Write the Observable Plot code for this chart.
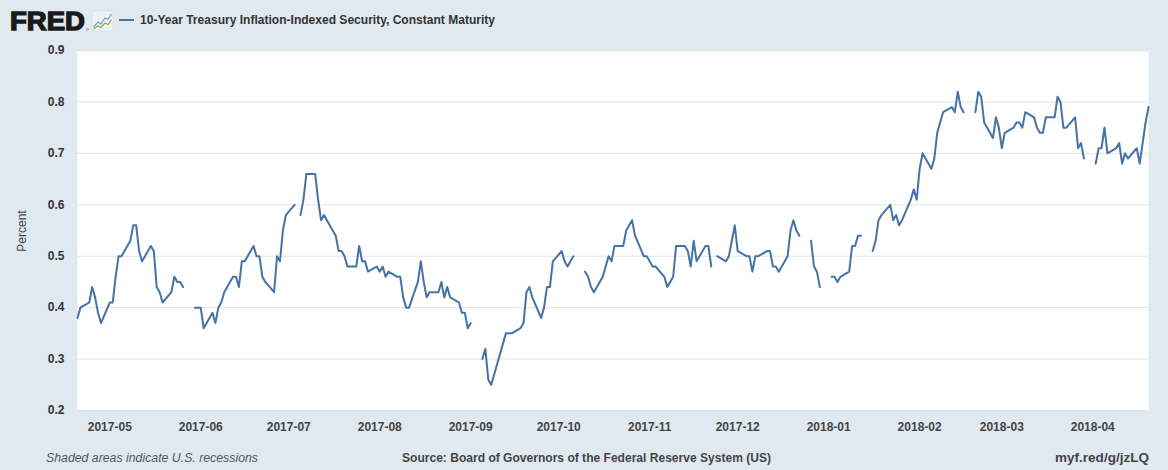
<!DOCTYPE html>
<html>
<head>
<meta charset="utf-8">
<script src="https://cdn.jsdelivr.net/npm/d3@7"></script>
<script src="https://cdn.jsdelivr.net/npm/@observablehq/plot@0.6"></script>
<style>
  html, body { margin: 0; padding: 0; }
  body { width: 1168px; height: 470px; background: #e1e9f0; overflow: hidden; position: relative;
         font-family: "Liberation Sans", Arial, sans-serif; }
  #header { position: absolute; left: 0; top: 0; width: 1168px; height: 40px; }
  #chart { position: absolute; left: 0; top: 40px; width: 1168px; height: 400px; }
  #ylabel { position: absolute; left: 22px; top: 231px; transform: translate(-50%, -50%) rotate(-90deg);
            font-size: 12px; color: #444; white-space: nowrap; }
  #footer { position: absolute; left: 0; top: 440px; width: 1168px; height: 30px; }
</style>
</head>
<body>
<svg id="header" width="1168" height="40" xmlns="http://www.w3.org/2000/svg">
  <text x="10" y="30" font-family="Liberation Sans, Arial, sans-serif" font-weight="bold" font-size="25" fill="#1a1a1a" stroke="#1a1a1a" stroke-width="1.3" textLength="75" lengthAdjust="spacingAndGlyphs">FRED</text>
  <text x="86" y="31" font-family="Liberation Sans, Arial, sans-serif" font-size="4" fill="#1a1a1a">®</text>
  <rect x="92" y="11" width="21" height="20" rx="2" fill="#eef2f2" stroke="#d5d9dc" stroke-width="0.6"/>
  <polyline points="93.5,27 98,22 101,24 105,18 108,19 111.5,14" fill="none" stroke="#6f9fd0" stroke-width="1.2"/>
  <polyline points="93.5,29 98,26 101,27.5 105,23 108,24.5 111.5,20" fill="none" stroke="#7cb342" stroke-width="1.2"/>
  <line x1="119" y1="20" x2="134" y2="20" stroke="#4572a7" stroke-width="2"/>
  <text x="140" y="24" font-family="Liberation Sans, Arial, sans-serif" font-weight="bold" font-size="12" fill="#333" textLength="355" lengthAdjust="spacingAndGlyphs">10-Year Treasury Inflation-Indexed Security, Constant Maturity</text>
</svg>
<div id="chart"></div>
<div id="ylabel">Percent</div>
<svg id="footer" width="1168" height="30" xmlns="http://www.w3.org/2000/svg">
  <text x="46" y="22" font-family="Liberation Sans, Arial, sans-serif" font-style="italic" font-size="12" fill="#555" textLength="212" lengthAdjust="spacingAndGlyphs">Shaded areas indicate U.S. recessions</text>
  <text x="402" y="22" font-family="Liberation Sans, Arial, sans-serif" font-weight="bold" font-size="12" fill="#444" textLength="369" lengthAdjust="spacingAndGlyphs">Source: Board of Governors of the Federal Reserve System (US)</text>
  <text x="1149" y="22" text-anchor="end" font-family="Liberation Sans, Arial, sans-serif" font-weight="bold" font-size="12" fill="#444" textLength="94" lengthAdjust="spacingAndGlyphs">myf.red/g/jzLQ</text>
</svg>
<script>
// ---- Data: 10-Year TIPS yield (percent), business days; null = market holiday ----
const monthStarts = ["2017-04-20","2017-05-01","2017-06-01","2017-07-01","2017-08-01","2017-09-01",
                     "2017-10-01","2017-11-01","2017-12-01","2018-01-01","2018-02-01","2018-03-01","2018-04-01"];
const apr2017 = [0.38,0.40,0.41,0.44,0.42,0.39,0.37];
const may2017 = [0.41,0.41,0.46,0.50,0.50, 0.53,0.56,0.56,0.51,0.49, 0.52,0.51,0.44,0.43,0.41,
                 0.43,0.46,0.45,0.45,0.44, null,0.40,0.40];
const jun2017 = [0.40,0.36, 0.39,0.37,0.40,0.41,0.43, 0.46,0.46,0.44,0.49,0.49, 0.52,0.50,0.50,0.46,0.45,
                 0.43,0.50,0.49,0.55,0.58];
const jul2017 = [0.60,null,0.58,0.61,0.66, 0.66,0.61,0.57,0.58,0.57, 0.54,0.51,0.51,0.50,0.48,
                 0.48,0.52,0.49,0.49,0.47, 0.48];
const aug2017 = [0.47,0.48,0.46,0.47, 0.46,0.46,0.42,0.40,0.40, 0.45,0.49,0.45,0.42,0.43,
                 0.43,0.45,0.42,0.44,0.42, 0.41,0.39,0.39,0.36];
const sep2017 = [0.37, null,0.30,0.32,0.26,0.25, 0.31,0.33,0.35,0.35,0.35, 0.36,0.37,0.43,0.44,0.42,
                 0.38,0.40,0.44,0.44,0.49];
const oct2017 = [0.51,0.49,0.48,0.49,0.50, null,0.47,0.46,0.44,0.43, 0.46,0.48,0.50,0.49,0.52,
                 0.52,0.55,0.56,0.57,0.54, 0.50,0.50];
const nov2017 = [0.49,0.48,0.48, 0.46,0.44,0.45,0.46,0.52, 0.52,0.51,0.48,0.53,0.49,
                 0.52,0.52,0.48,null,0.50, 0.49,0.50,0.53,0.56];
const dec2017 = [0.51, 0.50,0.50,0.47,0.50,0.50, 0.51,0.51,0.48,0.48,0.47, 0.50,0.55,0.57,0.55,0.54,
                 null,0.53,0.48,0.47,0.44];
const jan2018 = [null,0.46,0.46,0.45,0.46, 0.47,0.52,0.52,0.54,0.54, null,0.51,0.53,0.57,0.58,
                 0.60,0.57,0.58,0.56,0.57, 0.61,0.63,0.61];
const feb2018 = [0.67,0.70, 0.67,0.69,0.74,0.76,0.78, 0.79,0.78,0.82,0.79,0.78, null,0.78,0.82,0.81,0.76,
                 0.73,0.77,0.75];
const mar2018 = [0.71,0.74, 0.75,0.76,0.76,0.75,0.78, 0.77,0.75,0.74,0.74,0.77, 0.77,0.81,0.80,0.75,0.75,
                 0.77,0.71,0.72,0.69,null];
const apr2018 = [0.68,0.71,0.71,0.75,0.70, 0.71,0.72,0.68,0.70,0.69, 0.71,0.68,0.72,0.76,0.79];
const yTicks = [0.2,0.3,0.4,0.5,0.6,0.7,0.8,0.9];
const xTicks = ["2017-05-01","2017-06-01","2017-07-01","2017-08-01","2017-09-01","2017-10-01","2017-11-01",
                "2017-12-01","2018-01-01","2018-02-01","2018-03-01","2018-04-01"];
const xDomain = ["2017-04-20","2018-04-20"];

// Build table of weekday observations
const seriesByMonth = [apr2017,may2017,jun2017,jul2017,aug2017,sep2017,oct2017,nov2017,dec2017,jan2018,feb2018,mar2018,apr2018];
const data = [];
seriesByMonth.forEach((vals, i) => {
  let d = new Date(monthStarts[i] + "T00:00:00Z");
  for (const v of vals) {
    while (d.getUTCDay() === 0 || d.getUTCDay() === 6) d = new Date(d.getTime() + 864e5);
    data.push({date: d, value: v});
    d = new Date(d.getTime() + 864e5);
  }
});

const chart = Plot.plot({
  width: 1168,
  height: 400,
  marginLeft: 77,
  marginRight: 20,
  marginTop: 10,
  marginBottom: 30,
  style: {background: "transparent", fontFamily: "Liberation Sans, Arial, sans-serif", fontSize: "12px", color: "#333"},
  x: {type: "utc", domain: xDomain.map(s => new Date(s + "T00:00:00Z"))},
  y: {domain: [0.2, 0.9]},
  marks: [
    Plot.frame({fill: "white", stroke: null}),
    Plot.gridY(yTicks, {stroke: "#e3e3e3", strokeOpacity: 1}),
    Plot.axisY(yTicks, {tickSize: 0, tickPadding: 13, tickFormat: d3.format(".1f"), label: null,
                        fontWeight: "bold", fill: "#333"}),
    Plot.axisX(xTicks.map(s => new Date(s + "T00:00:00Z")), {tickSize: 0, tickPadding: 12,
                        tickFormat: d3.utcFormat("%Y-%m"), label: null, fontWeight: "bold", fill: "#444"}),
    Plot.line(data, {x: "date", y: "value", stroke: "#4572a7", strokeWidth: 2})
  ]
});
document.getElementById("chart").appendChild(chart);
</script>
</body>
</html>
